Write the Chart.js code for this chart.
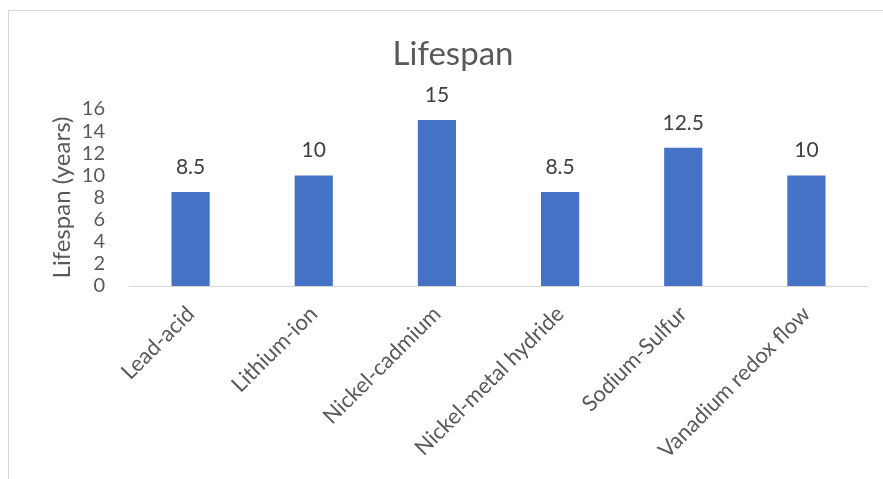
<!DOCTYPE html>
<html>
<head>
<meta charset="utf-8">
<script src="https://cdn.jsdelivr.net/npm/chart.js@4/dist/chart.umd.min.js"></script>
<style>
  body { margin: 0; background: #fff; }
  canvas { display: block; }
</style>
</head>
<body>
<canvas id="chart" width="883" height="479"></canvas>
<script>
const categories = ['Lead-acid', 'Lithium-ion', 'Nickel-cadmium', 'Nickel-metal hydride', 'Sodium-Sulfur', 'Vanadium redox flow'];
const lifespanYears = [8.5, 10, 15, 8.5, 12.5, 10];
const yTicks = [0, 2, 4, 6, 8, 10, 12, 14, 16];

const FONT = 'Lato, "Open Sans", sans-serif';
const TEXT = '#595959';

// light frame like the office chart area
const framePlugin = {
  id: 'frame',
  beforeDraw(chart) {
    const ctx = chart.ctx;
    ctx.save();
    ctx.strokeStyle = '#d9d9d9';
    ctx.lineWidth = 1;
    ctx.beginPath();
    ctx.moveTo(8.5, chart.height);
    ctx.lineTo(8.5, 10.5);
    ctx.lineTo(chart.width, 10.5);
    ctx.stroke();
    ctx.restore();
  }
};

// value labels above each bar
const valueLabels = {
  id: 'valueLabels',
  afterDatasetsDraw(chart) {
    const ctx = chart.ctx;
    const meta = chart.getDatasetMeta(0);
    ctx.save();
    ctx.font = '21px ' + FONT;
    ctx.fillStyle = '#404040';
    ctx.textAlign = 'center';
    ctx.textBaseline = 'alphabetic';
    meta.data.forEach((bar, i) => {
      ctx.fillText(String(lifespanYears[i]), bar.x, bar.y - 18);
    });
    ctx.restore();
  }
};

new Chart(document.getElementById('chart'), {
  type: 'bar',
  data: {
    labels: categories,
    datasets: [{
      label: 'Lifespan',
      data: lifespanYears,
      backgroundColor: '#4472C4',
      barPercentage: 0.31,
      categoryPercentage: 1
    }]
  },
  options: {
    responsive: false,
    animation: false,
    // left padding keeps the title centred on the whole frame
    layout: { padding: { top: 10, left: 38, right: 15, bottom: 0 } },
    plugins: {
      legend: { display: false },
      tooltip: { enabled: false },
      title: {
        display: true,
        text: 'Lifespan',
        color: TEXT,
        font: { family: FONT, size: 33, weight: 'normal', lineHeight: 1.2 },
        padding: { top: 25, bottom: 34.4 }
      }
    },
    scales: {
      x: {
        grid: { display: false, drawTicks: false },
        border: { display: true, color: '#d9d9d9', width: 1 },
        ticks: {
          color: TEXT,
          font: { family: FONT, size: 22 },
          minRotation: 45,
          maxRotation: 45,
          autoSkip: false,
          padding: 15
        },
        afterFit(scale) { scale.height = 193; }
      },
      y: {
        min: 0,
        max: 16,
        grid: { display: false, drawTicks: false },
        border: { display: false },
        afterBuildTicks(scale) { scale.ticks = yTicks.map(v => ({ value: v })); },
        ticks: {
          color: TEXT,
          font: { family: FONT, size: 20 },
          autoSkip: false,
          padding: 24
        },
        title: {
          display: true,
          text: 'Lifespan (years)',
          color: TEXT,
          font: { family: FONT, size: 24, lineHeight: 1.2 },
          padding: { top: 9.6, bottom: 0 }
        },
        afterFit(scale) { scale.width = 91; }
      }
    }
  },
  plugins: [framePlugin, valueLabels]
});
</script>
</body>
</html>
